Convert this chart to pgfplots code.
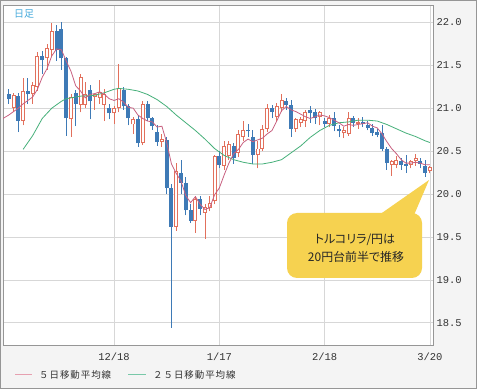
\documentclass[border=0pt]{standalone}
\usepackage{pgfplots}
\pgfplotsset{compat=1.18}
\usepackage{pgfplotstable}
\usepackage{fontspec}
\setmainfont{Liberation Sans}
\setmonofont{Liberation Mono}
\newfontfamily\jp{Noto Sans CJK JP}
\newfontfamily\jpp[RawFeature=+palt]{Noto Sans CJK JP}
\newfontfamily\jpls[LetterSpace=10]{Noto Sans CJK JP}
\definecolor{bgcol}{RGB}{244,244,244}
\definecolor{framecol}{RGB}{150,150,150}
\definecolor{gridcol}{RGB}{215,215,215}
\definecolor{upcol}{RGB}{226,112,92}
\definecolor{downcol}{RGB}{62,122,182}
\definecolor{ma5}{RGB}{200,96,128}
\definecolor{ma5leg}{RGB}{230,160,176}
\definecolor{ma25}{RGB}{70,176,122}
\definecolor{ma25leg}{RGB}{120,200,168}
\definecolor{callout}{RGB}{246,210,80}
\definecolor{hdr}{RGB}{70,170,220}

\pgfplotstableread{
i O H L C
1 21.00 21.18 20.95 21.15
3 20.85 21.35 20.80 21.20
5 21.16 21.30 21.05 21.27
6 21.25 21.66 21.20 21.61
8 21.58 21.75 21.45 21.70
9 21.68 21.99 21.60 21.90
13 20.87 21.16 20.67 21.13
15 21.04 21.40 20.95 21.36
16 21.04 21.30 21.00 21.17
18 21.13 21.16 20.98 21.17
19 21.12 21.33 21.05 21.19
20 21.04 21.22 20.85 21.17
22 20.94 21.03 20.82 21.00
23 21.00 21.52 20.95 21.23
26 20.81 20.90 20.70 20.87
28 20.59 21.08 20.57 21.05
32 20.61 20.70 20.55 20.64
35 19.62 20.36 19.57 20.27
39 19.69 19.98 19.55 19.94
41 19.78 19.88 19.48 19.85
42 19.84 19.98 19.80 19.90
43 19.92 20.46 19.88 20.44
45 20.33 20.62 20.28 20.56
46 20.44 20.62 20.40 20.58
48 20.48 20.75 20.43 20.70
49 20.67 20.85 20.62 20.75
52 20.46 20.62 20.30 20.53
53 20.53 20.80 20.50 20.76
54 20.76 21.05 20.72 21.00
56 20.90 21.06 20.85 21.02
57 21.00 21.16 20.96 21.10
60 20.76 20.88 20.72 20.87
61 20.83 20.90 20.78 20.87
62 20.85 20.98 20.78 20.96
65 20.90 20.97 20.80 20.95
67 20.82 20.92 20.78 20.88
70 20.71 20.78 20.65 20.75
71 20.70 20.95 20.68 20.88
73 20.82 20.88 20.76 20.84
80 20.34 20.40 20.21 20.38
81 20.34 20.44 20.30 20.40
84 20.34 20.40 20.30 20.38
85 20.38 20.47 20.33 20.42
88 20.27 20.33 20.24 20.31
}\upcandles

\pgfplotstableread{
i O H L C
0 21.17 21.22 21.05 21.11
2 21.14 21.18 20.72 20.85
4 21.20 21.35 21.05 21.16
7 21.61 21.67 21.40 21.56
10 21.90 21.97 21.55 21.68
11 21.92 22.00 21.45 21.58
12 21.58 21.60 20.68 20.88
14 21.18 21.21 20.79 21.05
17 21.21 21.27 20.87 21.08
21 21.00 21.05 20.87 20.94
24 21.21 21.25 20.98 21.02
25 21.02 21.05 20.80 20.88
27 20.87 20.92 20.55 20.59
29 21.05 21.08 20.85 20.88
30 20.88 20.90 20.75 20.79
31 20.72 20.80 20.56 20.61
33 20.63 20.66 20.00 20.07
34 20.07 20.12 18.44 19.62
36 20.25 20.40 20.00 20.13
37 20.13 20.20 19.75 19.81
38 19.81 19.88 19.66 19.69
40 19.94 19.98 19.75 19.83
44 20.44 20.50 20.30 20.34
47 20.56 20.60 20.35 20.42
50 20.75 20.82 20.67 20.73
51 20.67 20.75 20.35 20.46
55 21.00 21.04 20.88 20.96
58 21.08 21.12 20.98 21.04
59 21.04 21.10 20.67 20.76
63 20.98 21.02 20.83 20.94
64 20.96 20.99 20.82 20.88
66 20.85 20.88 20.78 20.82
68 20.88 20.96 20.73 20.79
69 20.76 20.80 20.66 20.73
72 20.88 20.91 20.78 20.83
74 20.84 20.90 20.78 20.82
75 20.80 20.85 20.74 20.77
76 20.77 20.81 20.68 20.71
77 20.72 20.76 20.66 20.69
78 20.71 20.80 20.50 20.53
79 20.53 20.55 20.28 20.36
82 20.38 20.42 20.28 20.34
83 20.35 20.45 20.25 20.33
86 20.38 20.42 20.30 20.35
87 20.33 20.40 20.20 20.25
}\downcandles

\pgfplotsset{candle/.style 2 args={forget plot, draw=none, no markers,
  error bars/.cd, y dir=plus, y explicit, error mark=none,
  error bar style={draw=#1, solid, line width=#2}}}

\begin{document}
\begin{tikzpicture}
\useasboundingbox (0,0) rectangle (477bp,389bp);
\fill[bgcol] (0,0) rectangle (477bp,389bp);
\draw[framecol, line width=0.8bp] (0.6bp,0.6bp) rectangle (476.4bp,388.4bp);
\begin{axis}[
  at={(3bp,43bp)}, anchor=south west,
  scale only axis, width=430bp, height=340bp,
  xmin=-1.2, xmax=88.65, ymin=18.23, ymax=22.19,
  xtick={22,44,66,88}, xticklabels={12/18,1/17,2/18,3/20},
  ytick={18.5,19.0,19.5,20.0,20.5,21.0,21.5,22.0},
  yticklabel pos=right,
  grid=major, major grid style={draw=gridcol, line width=0.7bp},
  major tick length=0pt,
  axis line style={draw=framecol, line width=1bp},
  axis background/.style={fill=white},
  ticklabel style={font=\ttfamily\fontsize{10.5}{12}\selectfont, text=black!80},
  yticklabel style={/pgf/number format/.cd, fixed, fixed zerofill, precision=1, assume math mode=true},
  xticklabel style={yshift=-3bp},
  clip=true,
]
% wicks
\addplot[candle={upcol}{0.9bp}]
  table[x=i, y=L, y error plus expr=\thisrow{H}-\thisrow{L}] {\upcandles};
\addplot[candle={downcol}{0.9bp}]
  table[x=i, y=L, y error plus expr=\thisrow{H}-\thisrow{L}] {\downcandles};
% bodies
\addplot[candle={upcol}{4bp}]
  table[x=i, y expr={min(\thisrow{O},\thisrow{C})}, y error plus expr={max(abs(\thisrow{C}-\thisrow{O}),0.016)}] {\upcandles};
\addplot[candle={white}{2bp}]
  table[x=i, y expr={min(\thisrow{O},\thisrow{C})+0.011}, y error plus expr={max(abs(\thisrow{C}-\thisrow{O})-0.022,0)}] {\upcandles};
\addplot[candle={downcol}{4bp}]
  table[x=i, y expr={min(\thisrow{O},\thisrow{C})}, y error plus expr={max(abs(\thisrow{C}-\thisrow{O}),0.016)}] {\downcandles};
% 25-day MA
\addplot[ma25, line width=0.8bp, mark=none] coordinates {
(3,20.52) (5,20.68) (7,20.88) (9,21.00) (11,21.08) (12,21.11) (15,21.14) (18,21.15) (20,21.18)
(22,21.22) (23,21.23) (25,21.22) (27,21.20) (29,21.16) (31,21.10) (33,21.02) (35,20.92) (37,20.83)
(39,20.74) (41,20.64) (43,20.53) (45,20.45) (47,20.40) (49,20.37) (51,20.35) (53,20.35) (55,20.37)
(57,20.40) (59,20.48) (61,20.56) (63,20.66) (65,20.74) (67,20.80) (69,20.83) (71,20.84) (73,20.86)
(75,20.86) (77,20.85) (79,20.81) (81,20.76) (83,20.71) (85,20.67) (87,20.62) (88,20.60)};
% 5-day MA
\addplot[ma5, line width=0.8bp, mark=none] coordinates {
(-1.2,20.88) (0,20.92) (1,20.96) (2,21.00) (3,21.05) (4,21.09) (5,21.13) (6,21.22) (7,21.36) (8,21.46)
(9,21.61) (10,21.69) (11,21.68) (12,21.55) (13,21.43) (14,21.26) (15,21.20) (16,21.12) (17,21.16)
(18,21.17) (19,21.19) (20,21.16) (21,21.11) (22,21.09) (23,21.11) (24,21.07) (25,21.01) (26,21.00)
(27,20.92) (28,20.88) (29,20.85) (30,20.84) (31,20.78) (32,20.79) (33,20.60) (34,20.35) (35,20.24)
(36,20.15) (37,19.98) (38,19.90) (39,19.97) (40,19.88) (41,19.82) (42,19.84) (43,19.99) (44,20.07)
(45,20.22) (46,20.36) (47,20.47) (48,20.52) (49,20.60) (50,20.64) (51,20.61) (52,20.63) (53,20.65)
(54,20.70) (55,20.74) (56,20.85) (57,20.97) (58,21.02) (59,20.98) (60,20.96) (61,20.93) (62,20.90)
(63,20.88) (64,20.90) (65,20.92) (66,20.91) (67,20.89) (68,20.86) (69,20.83) (70,20.79) (71,20.81)
(72,20.80) (73,20.81) (74,20.82) (75,20.83) (76,20.79) (77,20.77) (78,20.70) (79,20.61) (80,20.53)
(81,20.47) (82,20.40) (83,20.36) (84,20.36) (85,20.37) (86,20.36) (87,20.34) (88,20.34)};
\end{axis}
% header
\node[font=\jp\fontsize{10}{12}\selectfont, text=hdr] at (24bp,375bp) {日足};
% callout
\fill[callout, rounded corners=10bp] (287bp,111bp) rectangle (422bp,176bp);
\fill[callout] (379bp,174bp) -- (429bp,209bp) -- (414bp,174bp) -- cycle;
\node[font=\jpp\fontsize{12}{14}\selectfont, text=black!85] at (355bp,149bp) {トルコリラ/円は};
\node[font=\jpp\fontsize{12}{14}\selectfont, text=black!85] at (356bp,132bp) {20円台前半で推移};
% legend
\draw[ma5leg, line width=1bp] (15bp,14bp) -- (32bp,14bp);
\node[anchor=west, inner sep=0pt, font=\jpls\fontsize{9.5}{11}\selectfont, text=black!80] at (39bp,14bp) {５日移動平均線};
\draw[ma25leg, line width=1bp] (128bp,14bp) -- (146bp,14bp);
\node[anchor=west, inner sep=0pt, font=\jpls\fontsize{9.5}{11}\selectfont, text=black!80] at (153bp,14bp) {２５日移動平均線};
\end{tikzpicture}
\end{document}
